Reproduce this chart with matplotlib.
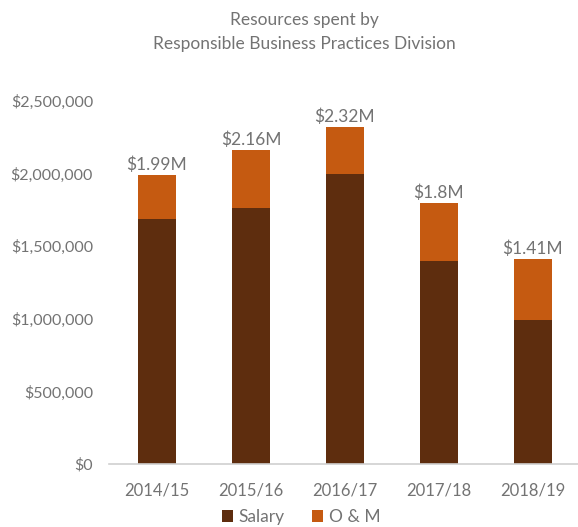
import matplotlib.pyplot as plt
from matplotlib.ticker import FuncFormatter
import numpy as np

# Spending by fiscal year, in millions of dollars
years = ["2014/15", "2015/16", "2016/17", "2017/18", "2018/19"]
salary = [1.69, 1.76, 2.00, 1.40, 0.99]
o_and_m = [0.30, 0.40, 0.32, 0.40, 0.42]
totals = [1.99, 2.16, 2.32, 1.8, 1.41]

salary_color = "#5E2D0E"
om_color = "#C55A11"
text_color = "#737373"

plt.rcParams["font.family"] = ["Lato", "DejaVu Sans"]

fig = plt.figure(figsize=(5.78, 5.27), dpi=100)
# the plot area runs off the right edge of the figure
ax = fig.add_axes([109 / 578, 63 / 527, 469 / 578, 363 / 527])

x = np.arange(len(years))
sal = np.array(salary) * 1e6
om = np.array(o_and_m) * 1e6
width = 0.4

ax.bar(x, sal, width, color=salary_color, label="Salary")
ax.bar(x, om, width, bottom=sal, color=om_color, label="O & M")

for xi, s, o, t in zip(x, sal, om, totals):
    ax.annotate(f"${t:g}M", (xi, s + o), xytext=(0, 1.5), textcoords="offset points",
                ha="center", va="bottom", fontsize=12.5, color=text_color)

ax.set_xlim(-0.51, 4.48)
ax.set_ylim(0, 2.5e6)
ax.set_yticks(np.arange(0, 2.5e6 + 1, 5e5))
ax.yaxis.set_major_formatter(FuncFormatter(lambda v, p: f"${v:,.0f}"))
ax.set_xticks(x)
ax.set_xticklabels(years)

for side in ["top", "right", "left"]:
    ax.spines[side].set_visible(False)
ax.spines["bottom"].set_color("#D0D0D0")
ax.spines["bottom"].set_linewidth(1.2)
ax.tick_params(axis="both", length=0, labelsize=12, colors=text_color)
ax.tick_params(axis="y", pad=11.5, labelsize=11.5)
ax.tick_params(axis="x", pad=13)

fig.text(304 / 578, 1 - 32 / 527, "Resources spent by\nResponsible Business Practices Division",
         ha="center", va="center", fontsize=12.5, color=text_color, linespacing=1.6)

fig.legend(loc="center", bbox_to_anchor=(301 / 578, 1 - 517 / 527), ncol=2,
           frameon=False, fontsize=12.5, handlelength=0.65, handleheight=0.65,
           handletextpad=0.3, columnspacing=1.6, labelcolor=text_color)

fig.savefig("out.png", dpi=100)
